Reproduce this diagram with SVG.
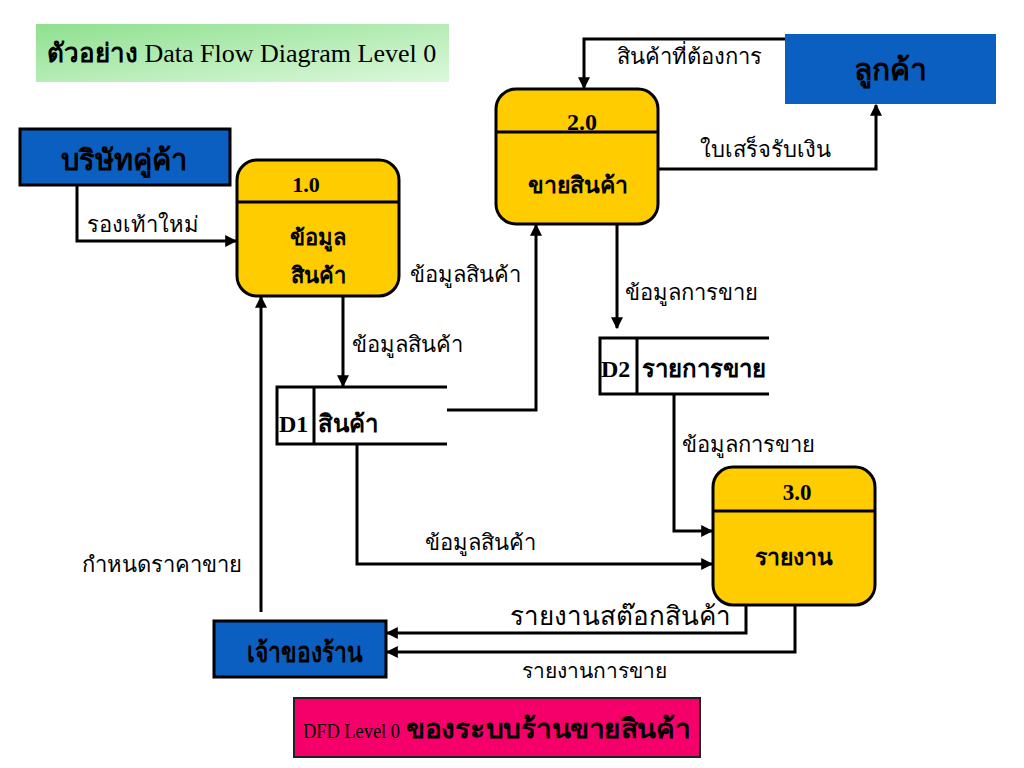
<svg xmlns="http://www.w3.org/2000/svg" width="1024" height="768" viewBox="0 0 1024 768">
<defs>
<linearGradient id="gTitle" x1="0" y1="0" x2="1" y2="1">
<stop offset="0" stop-color="#8fe08f"/>
<stop offset="1" stop-color="#dcf8dc"/>
</linearGradient>
<marker id="arr" viewBox="0 0 10 10" refX="9" refY="5" markerWidth="4" markerHeight="4" orient="auto" markerUnits="strokeWidth">
<path d="M0,0 L10,5 L0,10 z" fill="#000"/>
</marker>
<style>
.t{font-family:"Liberation Serif","DejaVu Serif",serif;fill:#000}
.lbl{font-size:22px}
.b{font-weight:bold}
.ent{fill:#0a5fc0;stroke:#000;stroke-width:3}
.proc{fill:#ffcc00;stroke:#000;stroke-width:3}
.ln{fill:none;stroke:#000;stroke-width:3}
.flow{fill:none;stroke:#000;stroke-width:3;marker-end:url(#arr)}
</style>
</defs>
<rect width="1024" height="768" fill="#fff"/>
<g id="title">
<rect x="36" y="24" width="413" height="58" fill="url(#gTitle)"/>
<text x="47" y="62" class="t" font-size="26"><tspan class="b">ตัวอย่าง</tspan> Data Flow Diagram Level 0</text>
</g>
<g id="e-supplier">
<rect x="20" y="129" width="210" height="56" class="ent"/>
<text x="124" y="170" class="t b" font-size="29" text-anchor="middle">บริษัทคู่ค้า</text>
</g>
<g id="e-customer">
<rect x="785" y="34" width="211" height="70" fill="#0a5fc0"/>
<text x="890" y="80" class="t b" font-size="30" text-anchor="middle">ลูกค้า</text>
</g>
<g id="e-owner">
<rect x="214" y="621" width="172" height="56" class="ent"/>
<text x="305" y="662" class="t b" font-size="28" text-anchor="middle" textLength="116" lengthAdjust="spacingAndGlyphs">เจ้าของร้าน</text>
</g>
<g id="p1">
<rect x="237" y="160" width="162" height="136" rx="20" class="proc"/>
<line x1="237" y1="202" x2="399" y2="202" class="ln"/>
<text x="306" y="192" class="t b" font-size="22" text-anchor="middle">1.0</text>
<text x="318" y="245" class="t b" font-size="22" text-anchor="middle">ข้อมูล</text>
<text x="318" y="283" class="t b" font-size="22" text-anchor="middle">สินค้า</text>
</g>
<g id="p2">
<rect x="496" y="89" width="162" height="135" rx="20" class="proc"/>
<line x1="496" y1="132" x2="658" y2="132" class="ln"/>
<text x="582" y="130" class="t b" font-size="24" text-anchor="middle">2.0</text>
<text x="578" y="193" class="t b" font-size="23" text-anchor="middle">ขายสินค้า</text>
</g>
<g id="p3">
<rect x="713" y="467" width="162" height="138" rx="20" class="proc"/>
<line x1="713" y1="511" x2="875" y2="511" class="ln"/>
<text x="797" y="500" class="t b" font-size="23" text-anchor="middle">3.0</text>
<text x="794" y="565" class="t b" font-size="23" text-anchor="middle">รายงาน</text>
</g>
<g id="d1">
<path d="M447,387 H277 V444 H447 M314,387 V444" class="ln"/>
<text x="279" y="432" class="t b" font-size="24">D1</text>
<text x="318" y="432" class="t b" font-size="24">สินค้า</text>
</g>
<g id="d2">
<path d="M769,338 H600 V394 H769 M637,338 V394" class="ln"/>
<text x="601" y="377" class="t b" font-size="24">D2</text>
<text x="642" y="377" class="t b" font-size="24">รายการขาย</text>
</g>
<g id="connectors">
<path d="M77,185 V241 H236" class="flow"/>
<path d="M785,39 H584 V88" class="flow"/>
<path d="M658,169 H876 V105" class="flow"/>
<path d="M343,296 V386" class="flow"/>
<path d="M447,410 H536 V225" class="flow"/>
<path d="M617,224 V328" class="flow"/>
<path d="M674,394 V531 H712" class="flow"/>
<path d="M357,444 V564 H712" class="flow"/>
<path d="M261,612 V297" class="flow"/>
<path d="M746,605 V633 H387" class="flow"/>
<path d="M795,605 V652 H387" class="flow"/>
</g>
<g id="labels" class="t lbl">
<text x="87" y="232">รองเท้าใหม่</text>
<text x="617" y="64">สินค้าที่ต้องการ</text>
<text x="700" y="157">ใบเสร็จรับเงิน</text>
<text x="352" y="352">ข้อมูลสินค้า</text>
<text x="410" y="282">ข้อมูลสินค้า</text>
<text x="625" y="300">ข้อมูลการขาย</text>
<text x="682" y="452">ข้อมูลการขาย</text>
<text x="425" y="550">ข้อมูลสินค้า</text>
<text x="82" y="572">กำหนดราคาขาย</text>
<text x="510" y="625" font-size="26">รายงานสต๊อกสินค้า</text>
<text x="522" y="678" font-size="21">รายงานการขาย</text>
</g>
<g id="caption">
<rect x="294" y="698" width="406" height="59" fill="#f5006a" stroke="#222" stroke-width="2"/>
<text x="303" y="738" class="t" font-size="21" textLength="97" lengthAdjust="spacingAndGlyphs">DFD Level 0</text>
<text x="406" y="738" class="t b" font-size="27" textLength="284" lengthAdjust="spacingAndGlyphs">ของระบบร้านขายสินค้า</text>
</g>
</svg>
